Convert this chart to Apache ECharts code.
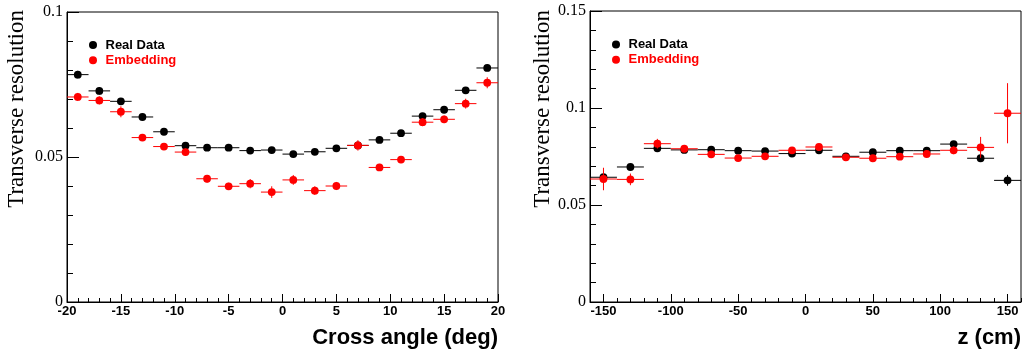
<!DOCTYPE html>
<html>
<head>
<meta charset="utf-8">
<script src="https://cdn.jsdelivr.net/npm/echarts@6/dist/echarts.min.js"></script>
<style>html,body{margin:0;padding:0;background:#fff;}#c{width:1026px;height:353px;}</style>
</head>
<body>
<div id="c"></div>
<script>
// ---- Left panel: resolution vs cross angle ----
const angleBins = [-19,-17,-15,-13,-11,-9,-7,-5,-3,-1,1,3,5,7,9,11,13,15,17,19];
const angleHalfWidth = 1;
const realAngle = [0.0784,0.0728,0.0692,0.0638,0.0587,0.0539,0.0532,0.0532,0.0522,0.0524,0.0510,0.0518,0.0530,0.0540,0.0559,0.0582,0.0641,0.0663,0.0730,0.0807];
const realAngleErr = [0.0013,0.0013,0.0010,0.0009,0.0008,0.0008,0.0008,0.0008,0.0008,0.0008,0.0008,0.0008,0.0008,0.0008,0.0008,0.0009,0.0010,0.0010,0.0011,0.0011];
const embAngle = [0.0707,0.0695,0.0656,0.0567,0.0536,0.0517,0.0425,0.0399,0.0408,0.0379,0.0421,0.0384,0.0400,0.0540,0.0464,0.0491,0.0620,0.0630,0.0684,0.0756];
const embAngleErr = [0.0014,0.0014,0.0019,0.0011,0.0012,0.0012,0.0013,0.0012,0.0016,0.0020,0.0017,0.0015,0.0014,0.0018,0.0012,0.0012,0.0014,0.0013,0.0017,0.0019];
const angleTicks = [-20,-15,-10,-5,0,5,10,15,20];

// ---- Right panel: resolution vs z ----
const zBins = [-150,-130,-110,-90,-70,-50,-30,-10,10,30,50,70,90,110,130,150];
const zHalfWidth = 10;
const realZ = [0.0643,0.0696,0.0792,0.0784,0.0785,0.0780,0.0778,0.0765,0.0782,0.0751,0.0772,0.0780,0.0780,0.0814,0.0741,0.0627];
const realZErr = [0.0015,0.0010,0.0008,0.0008,0.0008,0.0008,0.0008,0.0008,0.0008,0.0008,0.0008,0.0008,0.0008,0.0009,0.0010,0.0028];
const embZ = [0.0634,0.0632,0.0816,0.0790,0.0761,0.0742,0.0751,0.0782,0.0799,0.0746,0.0741,0.0749,0.0763,0.0782,0.0797,0.0973];
const embZErr = [0.0058,0.0030,0.0025,0.0010,0.0010,0.0010,0.0010,0.0010,0.0010,0.0010,0.0010,0.0010,0.0010,0.0020,0.0054,0.0155];
const zTicks = [-150,-100,-50,0,50,100,150];

const seriesNames = ['Real Data','Embedding'];
const colors = ['#000000','#ff0000'];

function build(xs, ys, es, hw) {
  return xs.map((x, i) => [x, ys[i], es[i], hw]);
}

function makeRender(color) {
  return function (params, api) {
    const x = api.value(0), y = api.value(1), e = api.value(2), hw = api.value(3);
    const c = api.coord([x, y]);
    const l = api.coord([x - hw, y]);
    const r = api.coord([x + hw, y]);
    const t = api.coord([x, y + e]);
    const b = api.coord([x, y - e]);
    const st = {stroke: color, lineWidth: 1, fill: null};
    return {
      type: 'group',
      children: [
        {type: 'line', shape: {x1: l[0], y1: c[1], x2: r[0], y2: c[1]}, style: st},
        {type: 'line', shape: {x1: c[0], y1: t[1], x2: c[0], y2: b[1]}, style: st},
        {type: 'circle', shape: {cx: c[0], cy: c[1], r: 3.9}, style: {fill: color, stroke: null}}
      ]
    };
  };
}

const xLabelFont = {color: '#000', fontFamily: 'Liberation Sans', fontWeight: 'bold', fontSize: 13, margin: 3};
const yLabelFont = {color: '#000', fontFamily: 'Liberation Serif', fontSize: 16, margin: 4};

const chart = echarts.init(document.getElementById('c'), null, {renderer: 'canvas'});
chart.setOption({
  animation: false,
  backgroundColor: '#fff',
  grid: [
    {left: 67, top: 12, width: 431, height: 290, show: true, borderColor: '#000', borderWidth: 1, backgroundColor: 'transparent', containLabel: false},
    {left: 590, top: 11, width: 431, height: 291, show: true, borderColor: '#000', borderWidth: 1, backgroundColor: 'transparent', containLabel: false}
  ],
  xAxis: [
    {type: 'value', gridIndex: 0, position: 'bottom', min: -20, max: 20, interval: 5,
     axisLine: {show: true, onZero: false, lineStyle: {color: '#000'}},
     axisTick: {show: true, inside: true, length: 8, lineStyle: {color: '#000'}},
     minorTick: {show: true, splitNumber: 5, length: 4, lineStyle: {color: '#000'}},
     splitLine: {show: false},
     axisLabel: Object.assign({showMinLabel: true, showMaxLabel: true}, xLabelFont)},
    {type: 'value', gridIndex: 1, position: 'bottom', min: -160, max: 160,
     axisLine: {show: true, onZero: false, lineStyle: {color: '#000'}},
     axisTick: {show: true, inside: true, length: 8, customValues: zTicks, lineStyle: {color: '#000'}},
     splitLine: {show: false},
     axisLabel: Object.assign({customValues: zTicks}, xLabelFont)},
    {type: 'value', gridIndex: 1, position: 'bottom', min: -160, max: 160, interval: 10,
     axisLine: {show: false, onZero: false},
     axisTick: {show: true, inside: true, length: 4, lineStyle: {color: '#000'}},
     splitLine: {show: false},
     axisLabel: {show: false}}
  ],
  yAxis: [
    {type: 'value', gridIndex: 0, min: 0, max: 0.1, interval: 0.05,
     axisLine: {show: true, onZero: false, lineStyle: {color: '#000'}},
     axisTick: {show: true, inside: true, length: 12, lineStyle: {color: '#000'}},
     minorTick: {show: true, splitNumber: 5, length: 6, lineStyle: {color: '#000'}},
     splitLine: {show: false},
     axisLabel: Object.assign({formatter: v => String(+v.toFixed(3))}, yLabelFont)},
    {type: 'value', gridIndex: 1, min: 0, max: 0.15, interval: 0.05,
     axisLine: {show: true, onZero: false, lineStyle: {color: '#000'}},
     axisTick: {show: true, inside: true, length: 12, lineStyle: {color: '#000'}},
     minorTick: {show: true, splitNumber: 5, length: 6, lineStyle: {color: '#000'}},
     splitLine: {show: false},
     axisLabel: Object.assign({formatter: v => String(+v.toFixed(3))}, yLabelFont)}
  ],
  legend: [
    {left: 84, top: 33, orient: 'vertical', itemWidth: 15, itemHeight: 8, itemGap: 1.3, icon: 'circle',
     selectedMode: false,
     textStyle: {fontFamily: 'Liberation Sans', fontWeight: 'bold', fontSize: 13, lineHeight: 14},
     data: [{name: seriesNames[0], textStyle: {color: colors[0]}}, {name: seriesNames[1], textStyle: {color: colors[1]}}]},
    {left: 607, top: 32.5, orient: 'vertical', itemWidth: 15, itemHeight: 8, itemGap: 1.3, icon: 'circle',
     selectedMode: false,
     textStyle: {fontFamily: 'Liberation Sans', fontWeight: 'bold', fontSize: 13, lineHeight: 14},
     data: [{name: seriesNames[0], textStyle: {color: colors[0]}}, {name: seriesNames[1], textStyle: {color: colors[1]}}]}
  ],
  graphic: [
    {type: 'text', x: 17, y: 10, rotation: Math.PI / 2,
     style: {text: 'Transverse resolution', fill: '#000', font: '23px "Liberation Serif"', align: 'right', verticalAlign: 'middle'}},
    {type: 'text', x: 543, y: 10, rotation: Math.PI / 2,
     style: {text: 'Transverse resolution', fill: '#000', font: '23px "Liberation Serif"', align: 'right', verticalAlign: 'middle'}},
    {type: 'text', x: 498, y: 338,
     style: {text: 'Cross angle (deg)', fill: '#000', font: 'bold 22px "Liberation Sans"', align: 'right', verticalAlign: 'middle'}},
    {type: 'text', x: 1021, y: 338,
     style: {text: 'z (cm)', fill: '#000', font: 'bold 22px "Liberation Sans"', align: 'right', verticalAlign: 'middle'}}
  ],
  series: [
    {name: seriesNames[0], type: 'custom', xAxisIndex: 0, yAxisIndex: 0, color: colors[0], itemStyle: {color: colors[0]},
     renderItem: makeRender(colors[0]), encode: {x: 0, y: 1}, data: build(angleBins, realAngle, realAngleErr, angleHalfWidth), z: 2},
    {name: seriesNames[1], type: 'custom', xAxisIndex: 0, yAxisIndex: 0, color: colors[1], itemStyle: {color: colors[1]},
     renderItem: makeRender(colors[1]), encode: {x: 0, y: 1}, data: build(angleBins, embAngle, embAngleErr, angleHalfWidth), z: 3},
    {name: seriesNames[0], type: 'custom', xAxisIndex: 1, yAxisIndex: 1, color: colors[0], itemStyle: {color: colors[0]},
     renderItem: makeRender(colors[0]), encode: {x: 0, y: 1}, data: build(zBins, realZ, realZErr, zHalfWidth), z: 2},
    {name: seriesNames[1], type: 'custom', xAxisIndex: 1, yAxisIndex: 1, color: colors[1], itemStyle: {color: colors[1]},
     renderItem: makeRender(colors[1]), encode: {x: 0, y: 1}, data: build(zBins, embZ, embZErr, zHalfWidth), z: 3}
  ]
});
</script>
</body>
</html>
